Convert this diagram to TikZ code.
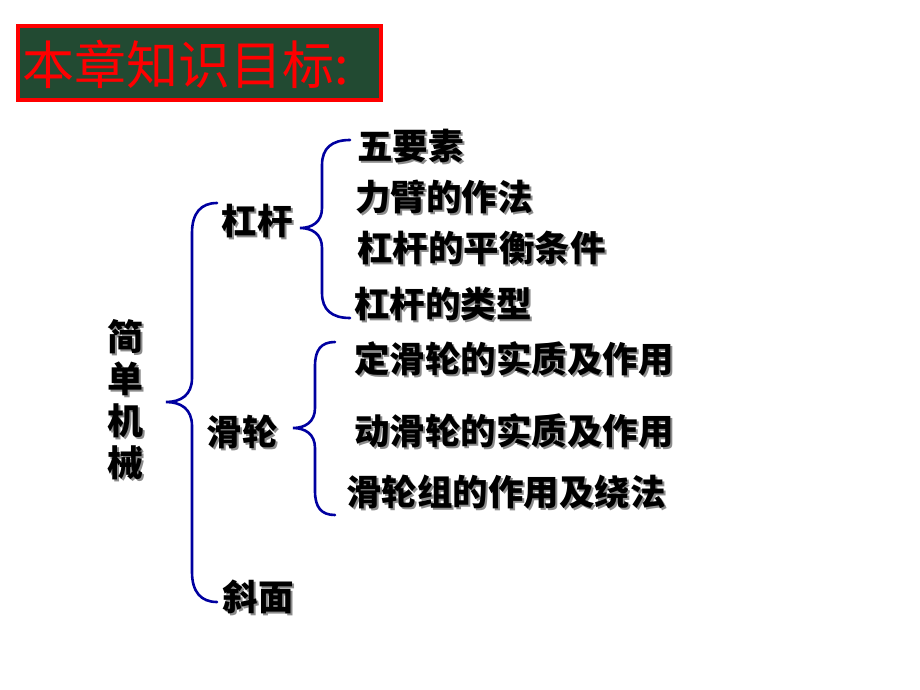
\documentclass[tikz,border=0pt]{standalone}
\usepackage{fontspec}
\setmainfont{Noto Sans CJK SC}
\definecolor{braceblue}{RGB}{0,0,160}
\definecolor{titlegreen}{RGB}{34,74,50}
% text with a grey drop shadow
\newcommand{\shd}[1]{\rlap{\color{black!45}\hspace{2pt}\raisebox{-2pt}{#1}}#1}

\begin{document}
\begin{tikzpicture}
  [x=1pt,y=-1pt,
  item/.style={anchor=west,inner sep=0pt,font=\fontsize{35.5}{40}\selectfont\bfseries},
  head/.style={inner sep=0pt,font=\fontsize{35.5}{40}\selectfont\bfseries},
  brace/.style={draw=braceblue,line width=2.6pt,line cap=round}]

  \useasboundingbox (0,0) rectangle (920,690);

  % title
  \node (box) [draw=red,line width=4pt,fill=titlegreen,minimum width=363pt,minimum height=74pt] at (199.5,63) {};
  \node (title) [inner sep=0pt,text=red,font=\fontsize{52}{54}\selectfont] at (186,64) {本章知识目标:};

  % main topic
  \node (jx) [head,align=center,font=\fontsize{36}{42}\selectfont\bfseries] at (125,401) {\shd{简}\\\shd{单}\\\shd{机}\\\shd{械}};

  \node (gg) [head] at (257,222) {\shd{杠杆}};
  \node (hl) [head] at (242,433) {\shd{滑轮}};
  \node (xm) [head] at (258,598) {\shd{斜面}};

  \node (g1) [item] at (357,147) {\shd{五要素}};
  \node (g2) [item] at (355,198) {\shd{力臂的作法}};
  \node (g3) [item] at (357,249) {\shd{杠杆的平衡条件}};
  \node (g4) [item] at (354,305) {\shd{杠杆的类型}};

  \node (h1) [item] at (354,360) {\shd{定滑轮的实质及作用}};
  \node (h2) [item] at (354,432) {\shd{动滑轮的实质及作用}};
  \node (h3) [item] at (346,493) {\shd{滑轮组的作用及绕法}};

  % braces
  \draw [brace] (217,203) .. controls (201,203) and (192,213) .. (192,233) -- (192,378)
    .. controls (192,395) and (181,402) .. (166,402) .. controls (181,402) and (192,409) .. (192,426)
    -- (192,572) .. controls (192,592) and (201,602) .. (217,602);
  \draw [brace] (350,140) .. controls (332,140) and (322,148) .. (322,165) -- (322,208)
    .. controls (322,222) and (312,228) .. (300,228) .. controls (312,228) and (322,234) .. (322,248)
    -- (322,293) .. controls (322,310) and (332,318) .. (350,318);
  \draw [brace] (335,342) .. controls (321,342) and (315,350) .. (315,366) -- (315,408)
    .. controls (315,422) and (305,428) .. (293,428) .. controls (305,428) and (315,434) .. (315,448)
    -- (315,491) .. controls (315,507) and (321,515) .. (335,515);

\end{tikzpicture}
\end{document}
